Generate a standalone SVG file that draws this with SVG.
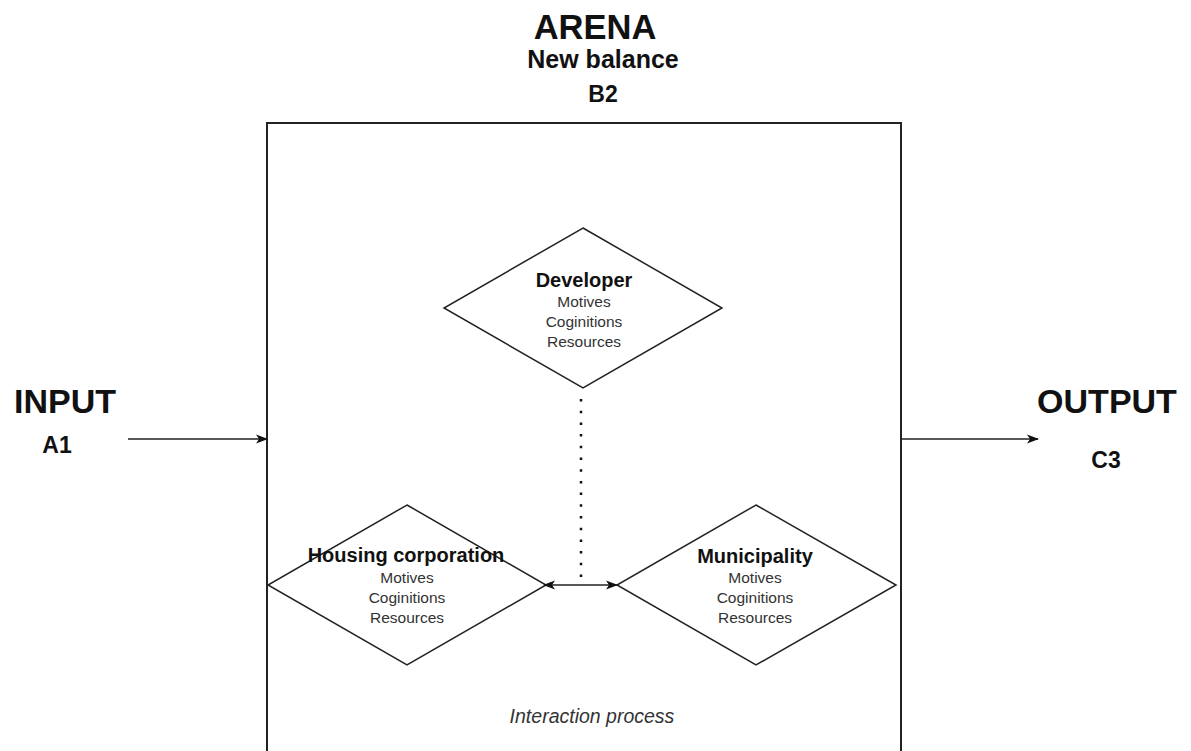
<svg xmlns="http://www.w3.org/2000/svg" width="1191" height="751" viewBox="0 0 1191 751">
<defs>
<style>
.bold{font-family:"Liberation Sans",Arial,sans-serif;font-weight:bold;fill:#111;text-anchor:middle}
.small{font-family:"Liberation Sans",Arial,sans-serif;font-size:15.5px;fill:#333;text-anchor:middle}
.shape{fill:#fff;stroke:#222;stroke-width:1.5}
.conn{fill:none;stroke:#222;stroke-width:1.5}
</style>
<marker id="arr" viewBox="0 0 12 10" refX="11" refY="5" markerWidth="12" markerHeight="10" markerUnits="userSpaceOnUse" orient="auto-start-reverse">
<path d="M0,0.5 L12,5 L0,9.5 L3,5 Z" fill="#111"/>
</marker>
</defs>
<rect width="1191" height="751" fill="#fff"/>
<g id="arena">
<rect x="267" y="123" width="634" height="700" fill="#fff" stroke="#222" stroke-width="2"/>
<text class="bold" x="595" y="39" font-size="34.5">ARENA</text>
<text class="bold" x="603" y="68" font-size="25">New balance</text>
<text class="bold" x="603" y="102" font-size="23">B2</text>
<text x="592" y="723" font-family="Liberation Sans, Arial, sans-serif" font-style="italic" font-size="19.5" fill="#333" text-anchor="middle">Interaction process</text>
</g>
<g id="input">
<text class="bold" x="65" y="413" font-size="34">INPUT</text>
<text class="bold" x="57" y="453" font-size="23">A1</text>
</g>
<g id="output">
<text class="bold" x="1107" y="413" font-size="34">OUTPUT</text>
<text class="bold" x="1106" y="468" font-size="23">C3</text>
</g>
<g id="developer">
<polygon class="shape" points="583,228 722,308 583,388 444,308"/>
<text class="bold" x="584" y="287" font-size="20">Developer</text>
<text class="small" x="584" y="307">Motives</text>
<text class="small" x="584" y="327">Coginitions</text>
<text class="small" x="584" y="347">Resources</text>
</g>
<g id="housing">
<polygon class="shape" points="407,505 546,585 407,665 268,585"/>
<text class="small" x="407" y="583">Motives</text>
<text class="small" x="407" y="603">Coginitions</text>
<text class="small" x="407" y="623">Resources</text>
<text class="bold" x="406" y="562" font-size="20">Housing corporation</text>
</g>
<g id="municipality">
<polygon class="shape" points="756,505 896,585 756,665 617,585"/>
<text class="bold" x="755" y="563" font-size="20">Municipality</text>
<text class="small" x="755" y="583">Motives</text>
<text class="small" x="755" y="603">Coginitions</text>
<text class="small" x="755" y="623">Resources</text>
</g>
<g id="connectors">
<line class="conn" x1="128" y1="439" x2="267" y2="439" marker-end="url(#arr)"/>
<line class="conn" x1="901" y1="439" x2="1038" y2="439" marker-end="url(#arr)"/>
<line class="conn" x1="544" y1="585" x2="617" y2="585" marker-start="url(#arr)" marker-end="url(#arr)"/>
<line x1="581" y1="399" x2="581" y2="586" stroke="#111" stroke-width="2.5" stroke-dasharray="2.5 9.2"/>
</g>
</svg>
